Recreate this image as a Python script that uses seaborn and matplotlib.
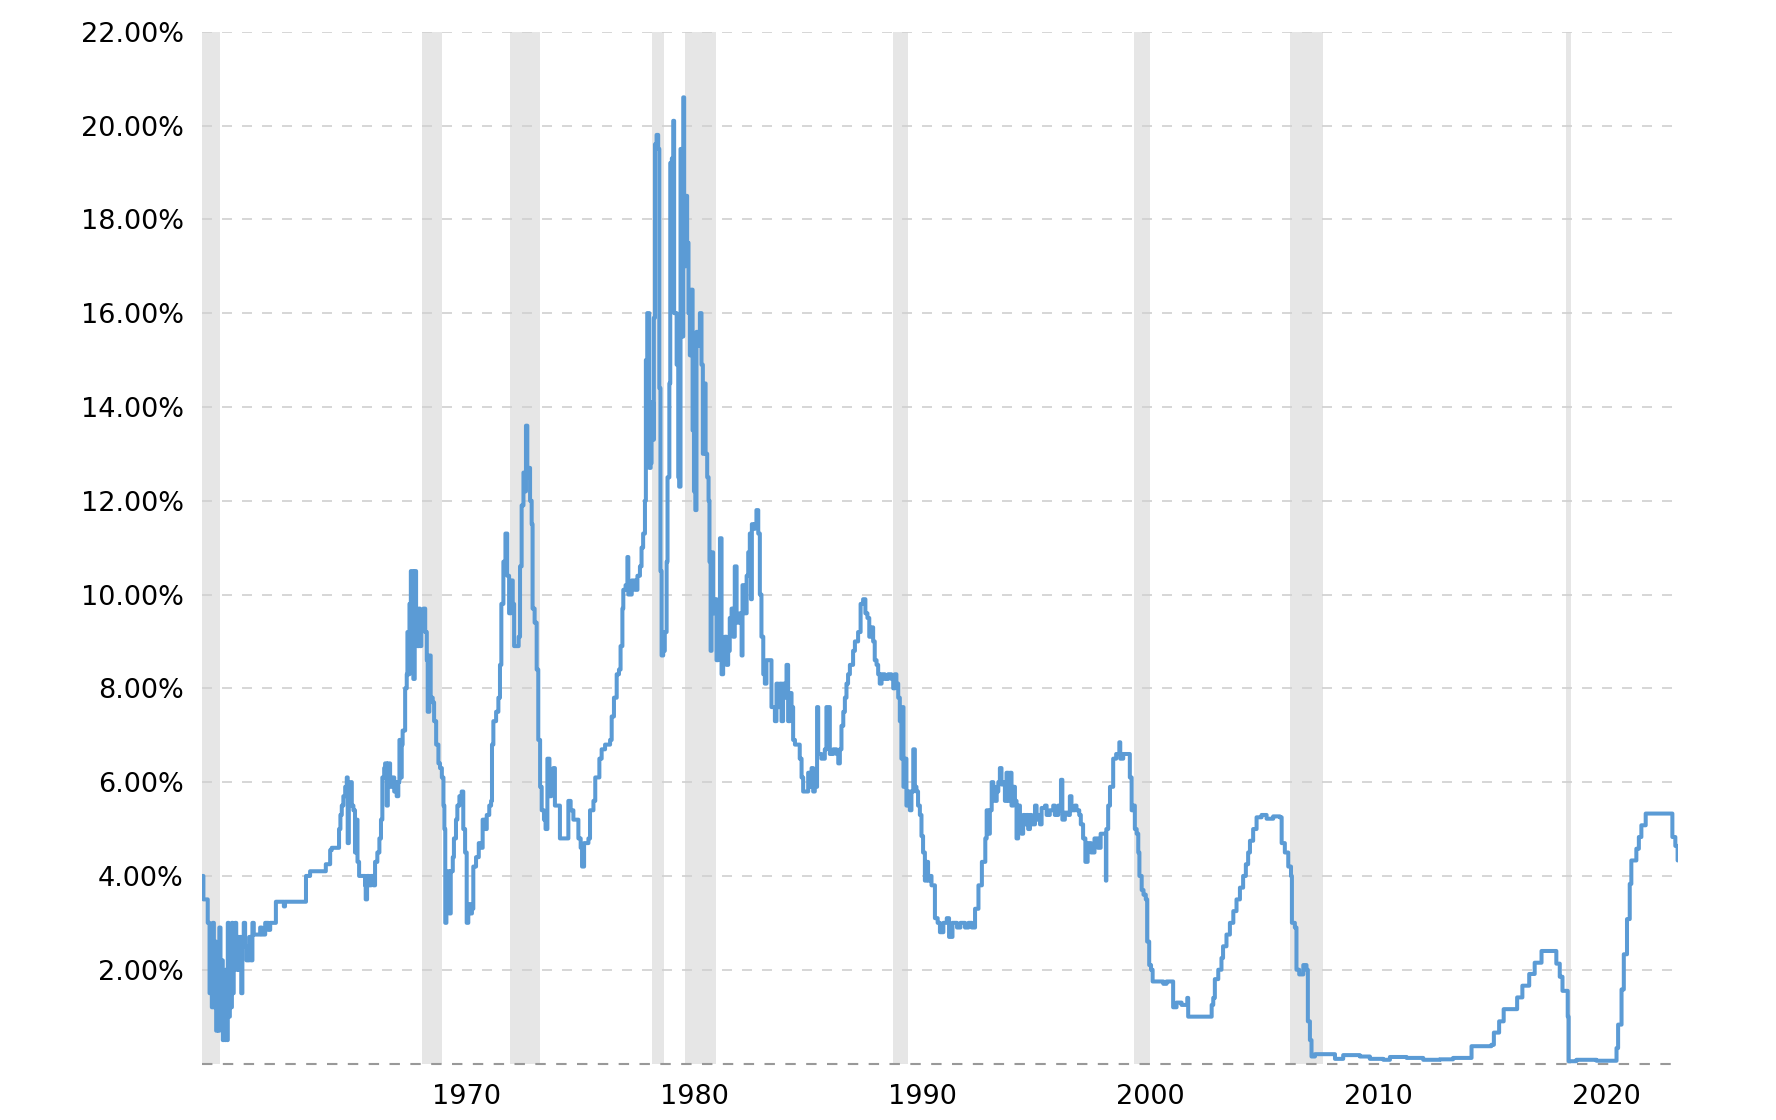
"""
plot.py
-------
Effective federal funds rate 1960-2024 with recession shading.
Run: python3 plot.py  ->  out.png
"""

import numpy as np
import pandas as pd
import matplotlib
matplotlib.use("Agg")
import matplotlib.pyplot as plt
import matplotlib.transforms as mtransforms
import seaborn as sns

# ── Data ─────────────────────────────────────────────────────────────────────
yr_1960s = [1960.18, 1960.22, 1960.26, 1960.41, 1960.45, 1960.48, 1960.53, 1960.57, 1960.63, 1960.67,
            1960.72, 1960.77, 1960.82, 1960.86, 1960.92, 1960.96, 1961.01, 1961.07, 1961.11, 1961.15,
            1961.20, 1961.24, 1961.29, 1961.33, 1961.37, 1961.42, 1961.46, 1961.51, 1961.55, 1961.59,
            1961.65, 1961.70, 1961.75, 1961.80, 1961.86, 1961.92, 1961.97, 1962.03, 1962.09, 1962.15,
            1962.21, 1962.27, 1962.35, 1962.41, 1962.47, 1962.60, 1962.75, 1962.82, 1962.97, 1963.11,
            1963.19, 1963.38, 1963.44, 1963.73, 1963.79, 1963.84, 1964.72, 1964.76, 1964.87, 1964.94,
            1965.53, 1965.63, 1965.78, 1965.82, 1965.89, 1966.16, 1966.21, 1966.27, 1966.33, 1966.40,
            1966.48, 1966.55, 1966.59, 1966.64, 1966.71, 1966.77, 1966.84, 1966.91, 1966.96, 1967.02,
            1967.09, 1967.28, 1967.35, 1967.38, 1967.44, 1967.53, 1967.62, 1967.72, 1967.79, 1967.89,
            1967.98, 1968.05, 1968.11, 1968.19, 1968.23, 1968.30, 1968.35, 1968.45, 1968.55, 1968.63,
            1968.71, 1968.74, 1968.81, 1968.86, 1968.92, 1968.96, 1969.00, 1969.11, 1969.18, 1969.21,
            1969.25, 1969.30, 1969.36, 1969.41, 1969.47, 1969.53, 1969.59, 1969.65, 1969.71, 1969.76,
            1969.82, 1969.91, 1969.99]
rate_1960s = [4.0, 4.0, 3.5, 3.5, 3.0, 3.0, 1.5, 2.8, 1.2, 3.0,
              1.2, 2.6, 0.7, 2.5, 0.7, 2.9, 0.8, 2.2, 0.5, 1.8,
              0.5, 2.0, 0.5, 3.0, 1.0, 2.7, 1.2, 3.0, 1.5, 2.5,
              3.0, 2.0, 2.7, 2.0, 2.7, 1.5, 2.5, 3.0, 2.5, 2.2,
              2.2, 2.7, 2.2, 3.0, 2.75, 2.75, 2.9, 2.75, 3.0, 2.85,
              3.0, 3.0, 3.45, 3.45, 3.35, 3.45, 3.45, 4.0, 4.0, 4.1,
              4.1, 4.25, 4.25, 4.55, 4.6, 4.6, 5.0, 5.3, 5.5, 5.7,
              5.9, 6.1, 4.7, 5.9, 6.0, 5.5, 5.4, 4.5, 5.2, 4.3,
              4.0, 4.0, 3.8, 3.5, 4.0, 3.8, 4.0, 3.8, 4.3, 4.5,
              4.8, 5.2, 6.1, 6.3, 6.4, 5.5, 6.4, 5.9, 6.1, 5.8,
              6.0, 5.7, 6.0, 6.9, 6.1, 6.8, 7.1, 8.0, 8.3, 9.2,
              8.3, 9.8, 10.5, 10.5, 8.2, 10.5, 9.4, 8.9, 9.7, 8.9,
              9.4, 9.7, 9.2]

yr_1970s = [1970.06, 1970.10, 1970.17, 1970.23, 1970.32, 1970.38, 1970.47, 1970.57, 1970.64, 1970.72,
            1970.79, 1970.83, 1970.87, 1970.92, 1970.99, 1971.05, 1971.11, 1971.20, 1971.25, 1971.34,
            1971.40, 1971.49, 1971.59, 1971.66, 1971.74, 1971.81, 1971.88, 1971.98, 1972.04, 1972.10,
            1972.22, 1972.34, 1972.42, 1972.51, 1972.60, 1972.69, 1972.80, 1972.88, 1972.92, 1972.98,
            1973.10, 1973.20, 1973.27, 1973.33, 1973.42, 1973.51, 1973.59, 1973.67, 1973.75, 1973.83,
            1973.89, 1974.00, 1974.09, 1974.15, 1974.22, 1974.30, 1974.35, 1974.41, 1974.47, 1974.53,
            1974.59, 1974.66, 1974.70, 1974.79, 1974.88, 1974.95, 1975.03, 1975.10, 1975.20, 1975.27,
            1975.35, 1975.44, 1975.52, 1975.61, 1975.68, 1975.83, 1975.90, 1976.17, 1976.27, 1976.37,
            1976.49, 1976.63, 1976.71, 1976.81, 1976.87, 1976.96, 1977.15, 1977.22, 1977.37, 1977.45,
            1977.63, 1977.73, 1977.88, 1978.10, 1978.17, 1978.27, 1978.39, 1978.49, 1978.56, 1978.64,
            1978.68, 1978.78, 1978.86, 1978.90, 1979.05, 1979.19, 1979.30, 1979.41, 1979.48, 1979.55,
            1979.63, 1979.67, 1979.73, 1979.79, 1979.82, 1979.88, 1979.92, 1979.99]
rate_1970s = [8.6, 7.5, 8.7, 7.8, 7.7, 7.3, 6.8, 6.4, 6.3, 6.1,
              5.5, 5.0, 3.0, 4.0, 4.1, 3.2, 4.1, 4.4, 4.8, 5.2,
              5.5, 5.7, 5.8, 5.0, 4.5, 3.0, 3.4, 3.2, 3.3, 4.2,
              4.4, 4.7, 4.6, 5.2, 5.0, 5.3, 5.5, 5.6, 6.8, 7.3,
              7.5, 7.8, 8.5, 9.8, 10.7, 11.3, 10.4, 9.6, 10.3, 9.8,
              8.9, 8.9, 9.1, 10.6, 11.9, 12.6, 12.2, 13.6, 12.5, 12.7,
              12.0, 11.5, 9.7, 9.4, 8.4, 6.9, 5.9, 5.4, 5.2, 5.0,
              6.5, 5.7, 6.2, 6.3, 5.5, 5.5, 4.8, 4.8, 5.6, 5.4,
              5.2, 5.2, 4.8, 4.6, 4.2, 4.7, 4.8, 5.4, 5.6, 6.1,
              6.5, 6.7, 6.8, 6.9, 7.4, 7.8, 8.3, 8.4, 8.9, 9.7,
              10.1, 10.2, 10.8, 10.0, 10.3, 10.1, 10.4, 10.6, 11.0, 11.3,
              12.0, 15.0, 16.0, 16.0, 12.7, 12.8, 14.1, 13.3]

yr_1980s = [1980.02, 1980.07, 1980.14, 1980.21, 1980.26, 1980.31, 1980.36, 1980.43, 1980.50, 1980.58,
            1980.62, 1980.70, 1980.74, 1980.81, 1980.87, 1980.91, 1981.02, 1981.09, 1981.13, 1981.19,
            1981.25, 1981.31, 1981.35, 1981.43, 1981.48, 1981.54, 1981.60, 1981.66, 1981.72, 1981.78,
            1981.84, 1981.89, 1981.98, 1982.04, 1982.11, 1982.17, 1982.23, 1982.29, 1982.36, 1982.42,
            1982.46, 1982.51, 1982.55, 1982.62, 1982.70, 1982.77, 1982.84, 1982.92, 1982.99, 1983.06,
            1983.14, 1983.21, 1983.28, 1983.35, 1983.43, 1983.50, 1983.57, 1983.65, 1983.79, 1983.87,
            1983.91, 1984.01, 1984.09, 1984.16, 1984.23, 1984.28, 1984.32, 1984.38, 1984.45, 1984.52,
            1984.60, 1984.67, 1984.74, 1984.82, 1984.89, 1984.96, 1985.11, 1985.18, 1985.25, 1985.33,
            1985.40, 1985.47, 1985.55, 1985.62, 1985.69, 1985.77, 1985.84, 1985.91, 1985.99, 1986.06,
            1986.13, 1986.21, 1986.28, 1986.42, 1986.50, 1986.57, 1986.72, 1986.79, 1986.86, 1986.94,
            1987.01, 1987.08, 1987.13, 1987.18, 1987.23, 1987.37, 1987.52, 1987.59, 1987.70, 1987.74,
            1987.89, 1988.03, 1988.11, 1988.18, 1988.25, 1988.33, 1988.40, 1988.47, 1988.54, 1988.62,
            1988.76, 1988.84, 1988.98, 1989.09, 1989.20, 1989.30, 1989.39, 1989.47, 1989.57, 1989.64,
            1989.71, 1989.79, 1989.86, 1989.93]
rate_1980s = [15.9, 19.6, 19.8, 19.5, 14.4, 10.5, 8.7, 8.8, 9.2, 10.7,
              12.5, 14.5, 19.2, 19.3, 20.1, 16.0, 14.9, 12.5, 12.3, 19.5,
              15.5, 20.6, 17.0, 18.5, 17.5, 16.0, 15.1, 16.5, 13.5, 12.2,
              11.8, 15.6, 15.3, 16.0, 14.9, 13.0, 14.5, 13.0, 12.5, 12.0,
              10.7, 8.8, 10.9, 9.6, 9.9, 8.6, 8.7, 11.2, 8.3, 8.6,
              9.1, 8.5, 8.8, 9.5, 9.7, 9.1, 10.6, 9.4, 9.6, 8.7,
              10.2, 9.6, 10.4, 10.9, 11.3, 9.9, 11.5, 11.4, 11.5, 11.8,
              11.3, 10.0, 9.1, 8.3, 8.1, 8.6, 8.6, 7.6, 7.6, 7.3,
              8.1, 7.6, 8.1, 7.3, 8.1, 7.8, 8.5, 7.3, 7.9, 7.6,
              6.9, 6.8, 6.8, 6.5, 6.1, 5.8, 5.8, 6.2, 5.9, 6.3,
              5.8, 6.2, 5.9, 7.6, 6.6, 6.5, 6.7, 7.6, 7.6, 6.6,
              6.7, 6.6, 6.4, 6.7, 7.2, 7.5, 7.8, 8.1, 8.3, 8.5,
              8.8, 9.0, 9.2, 9.8, 9.9, 9.6, 9.5, 9.1, 9.3, 9.0,
              8.6, 8.5, 8.3, 8.1]

yr_1990s = [1990.01, 1990.15, 1990.30, 1990.44, 1990.52, 1990.59, 1990.66, 1990.74, 1990.81, 1990.88,
            1990.93, 1990.97, 1991.03, 1991.10, 1991.18, 1991.25, 1991.32, 1991.40, 1991.47, 1991.54,
            1991.61, 1991.69, 1991.76, 1991.83, 1991.91, 1991.98, 1992.05, 1992.13, 1992.20, 1992.35,
            1992.47, 1992.57, 1992.72, 1992.87, 1992.97, 1993.12, 1993.32, 1993.47, 1993.67, 1993.82,
            1993.97, 1994.11, 1994.26, 1994.41, 1994.56, 1994.62, 1994.69, 1994.76, 1994.84, 1994.91,
            1994.98, 1995.06, 1995.13, 1995.20, 1995.27, 1995.35, 1995.42, 1995.49, 1995.57, 1995.64,
            1995.71, 1995.79, 1995.86, 1995.93, 1996.00, 1996.08, 1996.15, 1996.22, 1996.30, 1996.37,
            1996.44, 1996.52, 1996.59, 1996.74, 1996.81, 1996.88, 1996.96, 1997.03, 1997.18, 1997.25,
            1997.39, 1997.54, 1997.61, 1997.76, 1997.83, 1997.88, 1997.94, 1998.05, 1998.20, 1998.27,
            1998.34, 1998.49, 1998.56, 1998.68, 1998.75, 1998.85, 1998.95, 1999.05, 1999.20, 1999.35,
            1999.50, 1999.62, 1999.80, 1999.85, 1999.87, 1999.95]
rate_1990s = [8.3, 8.2, 8.3, 8.2, 8.0, 8.3, 8.1, 7.8, 7.3, 6.5,
              7.6, 5.9, 6.5, 5.5, 5.8, 5.4, 5.8, 6.7, 5.9, 5.8,
              5.5, 5.3, 4.85, 4.5, 3.9, 4.3, 3.9, 4.0, 3.8, 3.1,
              3.0, 2.8, 3.0, 3.1, 2.7, 3.0, 2.9, 3.0, 2.9, 3.0,
              2.9, 3.3, 3.8, 4.3, 4.8, 5.4, 4.9, 5.4, 6.0, 5.9,
              5.6, 5.8, 6.0, 6.3, 5.95, 6.0, 5.6, 6.2, 5.6, 6.2,
              5.5, 5.9, 5.6, 4.8, 5.5, 5.2, 4.9, 5.3, 5.1, 5.3,
              5.0, 5.3, 5.1, 5.5, 5.2, 5.3, 5.1, 5.45, 5.5, 5.3,
              5.4, 5.5, 5.3, 5.5, 5.4, 6.05, 5.2, 5.35, 5.3, 5.7,
              5.4, 5.5, 5.4, 5.3, 5.1, 4.8, 4.3, 4.7, 4.5, 4.8,
              4.6, 4.9, 4.9, 3.9, 5.0, 5.5]

yr_2000s = [2000.03, 2000.17, 2000.30, 2000.44, 2000.48, 2000.61, 2000.83, 2000.90, 2000.98, 2001.05,
            2001.12, 2001.20, 2001.27, 2001.32, 2001.42, 2001.50, 2001.60, 2001.66, 2001.75, 2001.83,
            2001.90, 2002.37, 2002.51, 2002.80, 2002.95, 2003.17, 2003.42, 2003.46, 2004.49, 2004.56,
            2004.63, 2004.78, 2004.92, 2004.99, 2005.14, 2005.29, 2005.44, 2005.58, 2005.73, 2005.87,
            2005.99, 2006.09, 2006.17, 2006.31, 2006.46, 2006.68, 2006.90, 2007.19, 2007.48, 2007.56,
            2007.70, 2007.85, 2007.97, 2008.01, 2008.14, 2008.21, 2008.33, 2008.51, 2008.65, 2008.71,
            2008.80, 2008.87, 2009.02, 2009.38, 2009.90]
rate_2000s = [5.9, 6.5, 6.6, 6.85, 6.5, 6.6, 6.6, 6.1, 5.4, 5.5,
              5.0, 4.9, 4.5, 4.0, 3.7, 3.6, 3.5, 2.6, 2.1, 2.0,
              1.75, 1.7, 1.75, 1.2, 1.3, 1.25, 1.4, 1.0, 1.25, 1.4,
              1.8, 2.0, 2.25, 2.5, 2.75, 3.0, 3.25, 3.5, 3.75, 4.0,
              4.25, 4.5, 4.75, 5.0, 5.25, 5.3, 5.22, 5.27, 5.25, 4.7,
              4.5, 4.2, 4.0, 3.0, 2.9, 2.0, 1.9, 2.1, 2.0, 0.9,
              0.5, 0.15, 0.2, 0.2, 0.1]

yr_2010s = [2010.26, 2010.99, 2011.43, 2012.02, 2012.31, 2013.04, 2013.77, 2014.50, 2015.08, 2015.89,
            2016.76, 2016.87, 2017.10, 2017.30, 2017.89, 2018.12, 2018.42, 2018.66, 2018.96, 2019.61,
            2019.76, 2019.88, 2020.11, 2020.15, 2020.49, 2021.37, 2022.25, 2022.32, 2022.47, 2022.57,
            2022.71, 2022.83, 2022.90, 2023.12, 2023.23, 2023.34, 2023.53, 2024.70, 2024.83, 2024.93]
rate_2010s = [0.18, 0.15, 0.1, 0.08, 0.14, 0.12, 0.08, 0.09, 0.12, 0.37,
              0.4, 0.66, 0.9, 1.16, 1.41, 1.66, 1.91, 2.15, 2.4, 2.13,
              1.85, 1.55, 1.0, 0.05, 0.08, 0.06, 0.33, 0.83, 1.58, 2.33,
              3.08, 3.83, 4.33, 4.58, 4.83, 5.08, 5.33, 4.83, 4.64, 4.33]

# NBER recessions (start, end) as shaded on the chart
rec_start = [1960.18, 1969.83, 1973.72, 1979.96, 1981.40, 1990.49, 2001.07, 2007.92, 2020.05]
rec_end   = [1960.97, 1970.72, 1975.04, 1980.46, 1982.74, 1991.18, 2001.77, 2009.36, 2020.27]

decade_ticks = [1970, 1980, 1990, 2000, 2010, 2020]
pct_ticks    = list(range(2, 23, 2))

df = pd.DataFrame({
    "Year": yr_1960s + yr_1970s + yr_1980s + yr_1990s + yr_2000s + yr_2010s,
    "Rate": rate_1960s + rate_1970s + rate_1980s + rate_1990s + rate_2000s + rate_2010s,
})

# ── Style ────────────────────────────────────────────────────────────────────
sns.set_theme(style="white")
plt.rcParams["font.family"] = ["DejaVu Sans"]

LINE  = "#5b9bd5"
GRID  = "#d0d0d0"
BASE  = "#999999"
SHADE = "#e6e6e6"

fig = plt.figure(figsize=(17.76, 11.2), dpi=100)
ax = fig.add_axes([0.1135, 0.0504, 0.8311, 0.9213])

for s, e in zip(rec_start, rec_end):
    ax.axvspan(s, e, color=SHADE, lw=0, zorder=0)

for v in pct_ticks:
    ax.axhline(v, color=GRID, lw=1.2, ls=(0, (6, 6)), zorder=1)
ax.axhline(0, color=BASE, lw=1.5, ls=(0, (5, 5)), zorder=1, clip_on=False)

sns.lineplot(data=df, x="Year", y="Rate", ax=ax, color=LINE, lw=2.9,
             drawstyle="steps-post", estimator=None, sort=False, zorder=3,
             solid_joinstyle="round")

ax.set_xlim(1960.18, 2024.93)
ax.set_ylim(0, 22)
ax.set_xlabel(""); ax.set_ylabel("")
sns.despine(ax=ax, left=True, bottom=True)

ax.set_yticks(pct_ticks)
ax.set_yticklabels([f"{v:.2f}%" for v in pct_ticks])
ax.set_xticks(decade_ticks)
ax.set_xticklabels([str(y) for y in decade_ticks])
ax.tick_params(axis="both", length=0, labelsize=19.5, colors="black")
ax.tick_params(axis="y", pad=13)
ax.tick_params(axis="x", pad=15)

shift = mtransforms.ScaledTranslation(7 / 100, 0, fig.dpi_scale_trans)
for lab in ax.get_xticklabels():
    lab.set_horizontalalignment("left")
    lab.set_transform(lab.get_transform() + shift)

fig.savefig("out.png", dpi=100, facecolor="white")
plt.close(fig)
